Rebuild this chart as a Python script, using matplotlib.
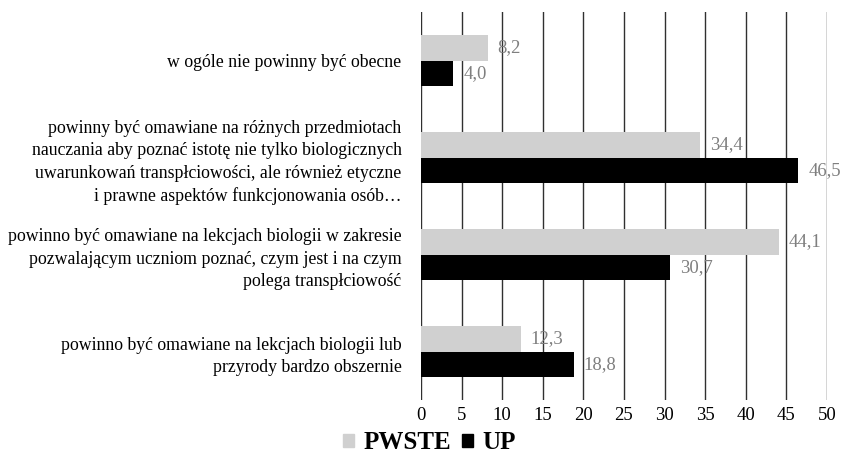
import matplotlib
matplotlib.use("Agg")
import matplotlib.pyplot as plt
import numpy as np
from matplotlib.patches import Patch

plt.rcParams['font.family'] = ['Liberation Serif', 'DejaVu Serif']

categories = [
    "w ogóle nie powinny być obecne",
    "powinny być omawiane na różnych przedmiotach\nnauczania aby poznać istotę nie tylko biologicznych\nuwarunkowań transpłciowości, ale również etyczne\ni prawne aspektów funkcjonowania osób…",
    "powinno być omawiane na lekcjach biologii w zakresie\npozwalającym uczniom poznać, czym jest i na czym\npolega transpłciowość",
    "powinno być omawiane na lekcjach biologii lub\nprzyrody bardzo obszernie",
]
pwste = [8.2, 34.4, 44.1, 12.3]
up = [4.0, 46.5, 30.7, 18.8]
series_names = ["PWSTE", "UP"]
ticks = [0, 5, 10, 15, 20, 25, 30, 35, 40, 45, 50]

fig = plt.figure(figsize=(8.42, 4.69), dpi=100)
ax = fig.add_axes([0.5, 0.147, 0.482, 0.827])

y = np.arange(len(categories))
h = 0.26
c1, c2 = '#d0d0d0', '#000000'
b1 = ax.barh(y - h / 2, pwste, height=h, color=c1, zorder=3)
b2 = ax.barh(y + h / 2, up, height=h, color=c2, zorder=3)

for bars, vals in ((b1, pwste), (b2, up)):
    for rect, v in zip(bars, vals):
        ax.annotate(f"{v:.1f}".replace('.', ','),
                    xy=(rect.get_width(), rect.get_y() + rect.get_height() / 2),
                    xytext=(7, 0), textcoords='offset points',
                    ha='left', va='center', fontsize=13.5, color='#7f7f7f', zorder=4)

ax.set_ylim(len(categories) - 0.5, -0.5)
ax.set_xlim(0, 50)
ax.set_xticks(ticks)
ax.set_xticklabels([str(t) for t in ticks], fontsize=13.5)
ax.set_yticks(y)
ax.set_yticklabels(categories, fontsize=12.8, linespacing=1.42)
ax.tick_params(axis='both', length=0)
ax.tick_params(axis='y', pad=14)
ax.tick_params(axis='x', pad=5)
for s in ax.spines.values():
    s.set_visible(False)
ax.grid(axis='x', color='#303030', linewidth=1, zorder=0)
ax.grid(axis='y', visible=False)

handles = [Patch(color=c1), Patch(color=c2)]
fig.legend(handles, series_names, loc='center', bbox_to_anchor=(0.51, 0.056),
           ncol=2, frameon=False,
           prop={'family': 'Liberation Serif', 'weight': 'bold', 'size': 18},
           handlelength=0.45, handleheight=0.45, handletextpad=0.35, columnspacing=0.45)

fig.savefig("out.png", dpi=100)
